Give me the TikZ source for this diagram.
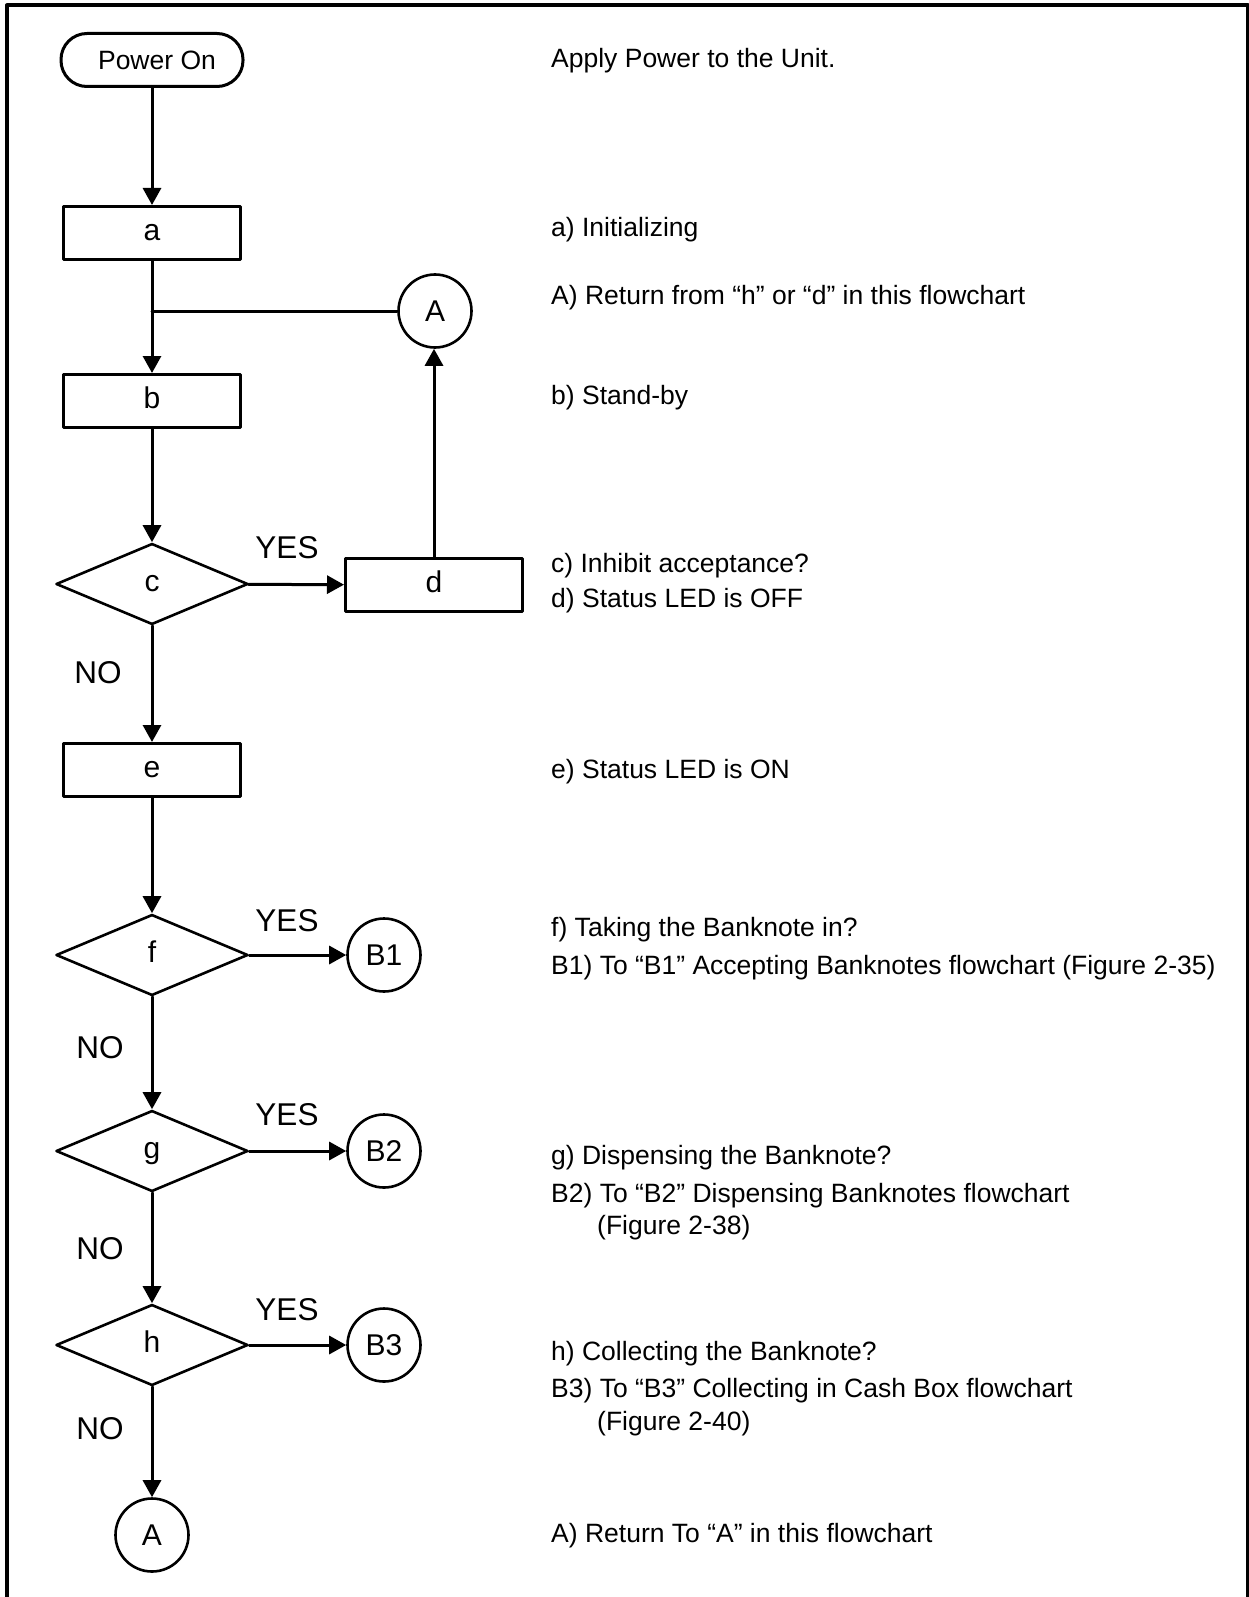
\documentclass[tikz,border=0pt]{standalone}
\usepackage{fontspec}
\setmainfont{Liberation Sans}
\usetikzlibrary{arrows.meta,shapes.geometric}

\begin{document}
\begin{tikzpicture}[line cap=round,line join=round,>={Triangle[length=17pt,width=18pt]},x=1pt,y=-1pt,
	every node/.style={font=\fontsize{26.5}{32}\selectfont},
	startbox/.style={draw,line width=3pt,rounded corners=26pt,minimum width=182pt,minimum height=53pt,inner sep=0pt},
	stepbox/.style={draw,line width=3pt,minimum width=177pt,minimum height=53pt,inner sep=0pt,text height=15.6pt,text depth=0pt,font=\fontsize{30}{36}\selectfont},
	askbox/.style={draw,diamond,line width=2.6pt,minimum width=192pt,minimum height=81pt,inner sep=0pt,text height=15.6pt,text depth=0pt,font=\fontsize{30}{36}\selectfont},
	linkbox/.style={draw,circle,line width=2.6pt,minimum size=73pt,inner sep=0pt,font=\fontsize{30}{36}\selectfont},
	flow/.style={line width=3pt},
	note/.style={anchor=west,inner sep=0pt,text height=19pt,text depth=0pt},
	answer/.style={inner sep=0pt,text height=22.5pt,text depth=0pt,font=\fontsize{31.5}{36}\selectfont}]
			\useasboundingbox (0,0) rectangle (1249,1597);
			% frame
			\draw[line width=4pt,line cap=butt] (7,1600) -- (7,5.5) -- (1247.5,5.5) -- (1247.5,1600);
			% chart
			\node[startbox] (pwr) at (152,60) {\hspace*{10pt}Power On};
			\node[stepbox] (a) at (152,233) {a};
			\node[linkbox] (rtA) at (435,311) {A};
			\coordinate (jn) at (rtA.west -| a);
			\node[stepbox] (b) at (152,401) {b};
			\node[askbox] (c) at (152,584) {c};
			\node[stepbox] (d) at (434,585) {d};
			\node[stepbox] (e) at (152,770) {e};
			\node[askbox] (f) at (152,955) {f};
			\node[linkbox] (B1) at (384,955) {B1};
			\node[askbox] (g) at (152,1151) {g};
			\node[linkbox] (B2) at (384,1151) {B2};
			\node[askbox] (h) at (152,1345) {h};
			\node[linkbox] (B3) at (384,1345) {B3};
			\node[linkbox] (endA) at (152,1535) {A};
			\draw[flow,->] (pwr) -- (a);
			\draw[flow,->] (a) -- (b);
			\draw[flow] (rtA.west) -- (jn);
			\draw[flow,->] (b) -- (c);
			\draw[flow,->] (c) -- (d);
			\draw[flow,->] (d) -- (d |- rtA.south);
			\draw[flow,->] (c) -- (e);
			\draw[flow,->] (e) -- (f);
			\draw[flow,->] (f) -- (B1);
			\draw[flow,->] (f) -- (g);
			\draw[flow,->] (g) -- (B2);
			\draw[flow,->] (g) -- (h);
			\draw[flow,->] (h) -- (B3);
			\draw[flow,->] (h) -- (endA);
			% YES / NO
			\node[answer] (yc) at (287,547) {YES};
			\node[answer] (nc) at (98,672) {NO};
			\node[answer] (yf) at (287,920) {YES};
			\node[answer] (nf) at (100,1047) {NO};
			\node[answer] (yg) at (287,1114) {YES};
			\node[answer] (ng) at (100,1248) {NO};
			\node[answer] (yh) at (287,1309) {YES};
			\node[answer] (nh) at (100,1428) {NO};
			% notes
			\node[note] (tpwr) at (551,58) {Apply Power to the Unit.};
			\node[note] (ta) at (551,227) {a) Initializing};
			\node[note] (trtA) at (551,295) {A) Return from “h” or “d” in this flowchart};
			\node[note] (tb) at (551,395) {b) Stand-by};
			\node[note] (tc) at (551,563) {c) Inhibit acceptance?};
			\node[note] (td) at (551,598) {d) Status LED is OFF};
			\node[note] (te) at (551,769) {e) Status LED is ON};
			\node[note] (tf) at (551,927) {f) Taking the Banknote in?};
			\node[note] (tB1) at (551,965) {B1) To “B1” Accepting Banknotes flowchart (Figure 2-35)};
			\node[note] (tg) at (551,1155) {g) Dispensing the Banknote?};
			\node[note] (tB2) at (551,1193) {B2) To “B2” Dispensing Banknotes flowchart};
			\node[note] (tB2x) at (597,1225) {(Figure 2-38)};
			\node[note] (th) at (551,1351) {h) Collecting the Banknote?};
			\node[note] (tB3) at (551,1388) {B3) To “B3” Collecting in Cash Box flowchart};
			\node[note] (tB3x) at (597,1421) {(Figure 2-40)};
			\node[note] (tendA) at (551,1533) {A) Return To “A” in this flowchart};
\end{tikzpicture}
\end{document}
